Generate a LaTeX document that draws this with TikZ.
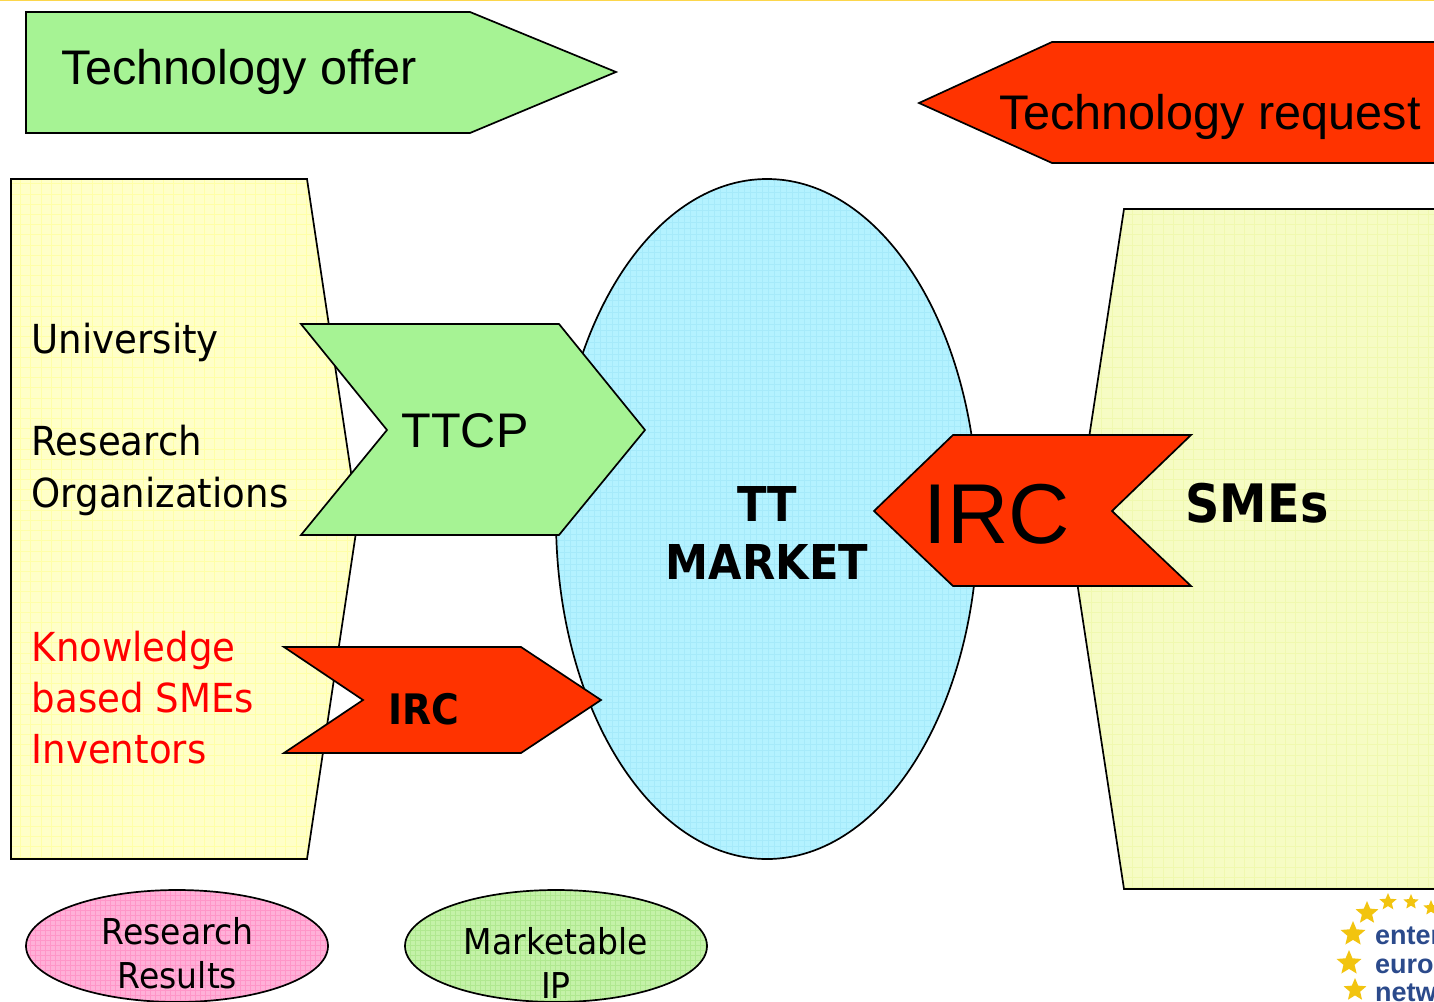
\documentclass[tikz,border=0pt]{standalone}
\usepackage{fontspec}
\setmainfont{Liberation Sans}
\newfontfamily\tah[FakeStretch=0.928]{DejaVu Sans}
\newfontfamily\tahb[FakeStretch=0.9]{DejaVu Sans Bold}
\definecolor{offergreen}{HTML}{A6F394}
\definecolor{reqred}{HTML}{FF3300}
\definecolor{leftyellow}{HTML}{FFFFC8}
\definecolor{gridyellow}{HTML}{FFFFA8}
\definecolor{rightyellow}{HTML}{F6FCC4}
\definecolor{gridright}{HTML}{F0F9B0}
\definecolor{skyblue}{HTML}{B4F2FF}
\definecolor{gridblue}{HTML}{A6EAFA}
\definecolor{pinkfill}{HTML}{FFB0D8}
\definecolor{gridpink}{HTML}{FF96C8}
\definecolor{lightgreen}{HTML}{C4F2A8}
\definecolor{gridgreen}{HTML}{B0E890}
\definecolor{starc}{HTML}{F2C40F}
\definecolor{logoblue}{HTML}{2B4A8B}
\newcommand{\fiveStar}[3]{\fill[starc,shift={(#1,#2)},scale=#3]
  (270:1) -- (306:.45) -- (342:1) -- (18:.45) -- (54:1) -- (90:.45) -- (126:1) -- (162:.45) -- (198:1) -- (234:.45) -- cycle;}
\tikzset{
  x=1pt,y=-1pt,
  outline/.style={draw=black,line width=1.7pt,line join=miter},
  lab/.style={inner sep=0pt,align=center,text=black},
  sidelab/.style={inner sep=0pt,anchor=base west,font=\tah\fontsize{40}{40}\selectfont},
  arial/.style={font=\fontsize{48.6}{48.6}\selectfont},
  heavy/.style={font=\tahb\fontsize{#1}{#1}\selectfont},
  ovallab/.style={inner sep=0pt,anchor=base,font=\tah\fontsize{35.6}{35.6}\selectfont},
  logolab/.style={inner sep=0pt,anchor=base west,text=logoblue,font=\bfseries\fontsize{27}{27}\selectfont},
}
\begin{document}
\begin{tikzpicture}
\useasboundingbox (0,0) rectangle (1434,1001);
\clip (0,0) rectangle (1434,1001);
\fill[white] (0,0) rectangle (1434,1001);
\fill[yellow!60!orange!70] (0,0) rectangle (1434,1.3);
% top arrows
\draw[outline,fill=offergreen] (26,12) -- (470,12) -- (616,72) -- (470,133) -- (26,133) -- cycle;
\draw[outline,fill=reqred] (1450,42) -- (1052,42) -- (919,103) -- (1052,163) -- (1450,163) -- cycle;
\node[lab,anchor=base west,arial] (offer) at (61,84) {Technology offer};
\node[lab,anchor=base west,arial] (request) at (999,129) {Technology request};
% left panel
\begin{scope}
\clip (11,179) -- (307,179) -- (358,519) -- (307,859) -- (11,859) -- cycle;
\fill[leftyellow] (0,170) rectangle (370,870);
\draw[gridyellow,line width=.5pt,step=10.2pt] (0,170) grid (370,870);
\end{scope}
\draw[outline] (11,179) -- (307,179) -- (358,519) -- (307,859) -- (11,859) -- cycle;
% right panel
\begin{scope}
\clip (1124,209) -- (1450,209) -- (1450,889) -- (1124,889) -- (1072,549) -- cycle;
\fill[rightyellow] (1060,200) rectangle (1450,900);
\draw[gridright,line width=.5pt,step=10.2pt] (1060,200) grid (1450,900);
\end{scope}
\draw[outline] (1450,209) -- (1124,209) -- (1072,549) -- (1124,889) -- (1450,889);
% market
\begin{scope}
\clip (767,519) ellipse [x radius=211,y radius=340];
\fill[skyblue] (550,170) rectangle (985,870);
\draw[gridblue,line width=.4pt,step=6pt] (550,170) grid (985,870);
\end{scope}
\draw[outline] (767,519) ellipse [x radius=211,y radius=340];
% chevrons
\draw[outline,fill=offergreen] (301,324) -- (559,324) -- (645,430) -- (559,535) -- (301,535) -- (387,430) -- cycle;
\draw[outline,fill=reqred] (284,647) -- (521,647) -- (601,700) -- (521,753) -- (284,753) -- (363,700) -- cycle;
\draw[outline,fill=reqred] (1191,435) -- (953,435) -- (874,511) -- (953,586) -- (1191,586) -- (1112,511) -- cycle;
% bottom ellipses
\begin{scope}
\clip (177,946) ellipse [x radius=151,y radius=56];
\fill[pinkfill] (20,885) rectangle (335,1005);
\draw[gridpink,line width=.5pt,step=5pt] (20,885) grid (335,1005);
\end{scope}
\draw[outline] (177,946) ellipse [x radius=151,y radius=56];
\begin{scope}
\clip (556,946) ellipse [x radius=151,y radius=56];
\fill[lightgreen] (400,885) rectangle (712,1005);
\draw[gridgreen,line width=.5pt,step=5pt] (400,885) grid (712,1005);
\end{scope}
\draw[outline] (556,946) ellipse [x radius=151,y radius=56];
% labels
\node[sidelab] (univ) at (31.5,353) {University};
\node[sidelab] (res) at (31.5,455) {Research};
\node[sidelab] (org) at (31.5,507) {Organizations};
\node[sidelab,text=red] (know) at (31.5,661) {Knowledge};
\node[sidelab,text=red] (based) at (31.5,712) {based SMEs};
\node[sidelab,text=red] (inv) at (31.5,763) {Inventors};
\node[lab,anchor=base,arial] (ttcp) at (465,447) {TTCP};
\node[lab,anchor=base,heavy=42] (irc1) at (424,724) {IRC};
\node[lab,anchor=base,font=\fontsize{85}{85}\selectfont] (irc2) at (997,543) {IRC};
\node[lab,anchor=base,heavy=53] (smes) at (1257,522) {SMEs};
\node[lab,anchor=base,heavy=48] (tt) at (767,521) {TT};
\node[lab,anchor=base,heavy=48] (mkt) at (767,579) {MARKET};
\node[ovallab] (rr1) at (177.5,944) {Research};
\node[ovallab] (rr2) at (177.5,988) {Results};
\node[ovallab] (mip1) at (556,954) {Marketable};
\node[ovallab] (mip2) at (556,998) {IP};
% logo
\fiveStar{1367}{913}{12}
\fiveStar{1388}{902}{9}
\fiveStar{1411}{902}{8}
\fiveStar{1431}{908}{8}
\fiveStar{1353}{934}{13}
\fiveStar{1349}{963}{13}
\fiveStar{1355}{990}{12}
\node[logolab] (lg1) at (1375,944) {enter};
\node[logolab] (lg2) at (1375,973) {europ};
\node[logolab] (lg3) at (1375,1001) {netw};
\end{tikzpicture}
\end{document}
